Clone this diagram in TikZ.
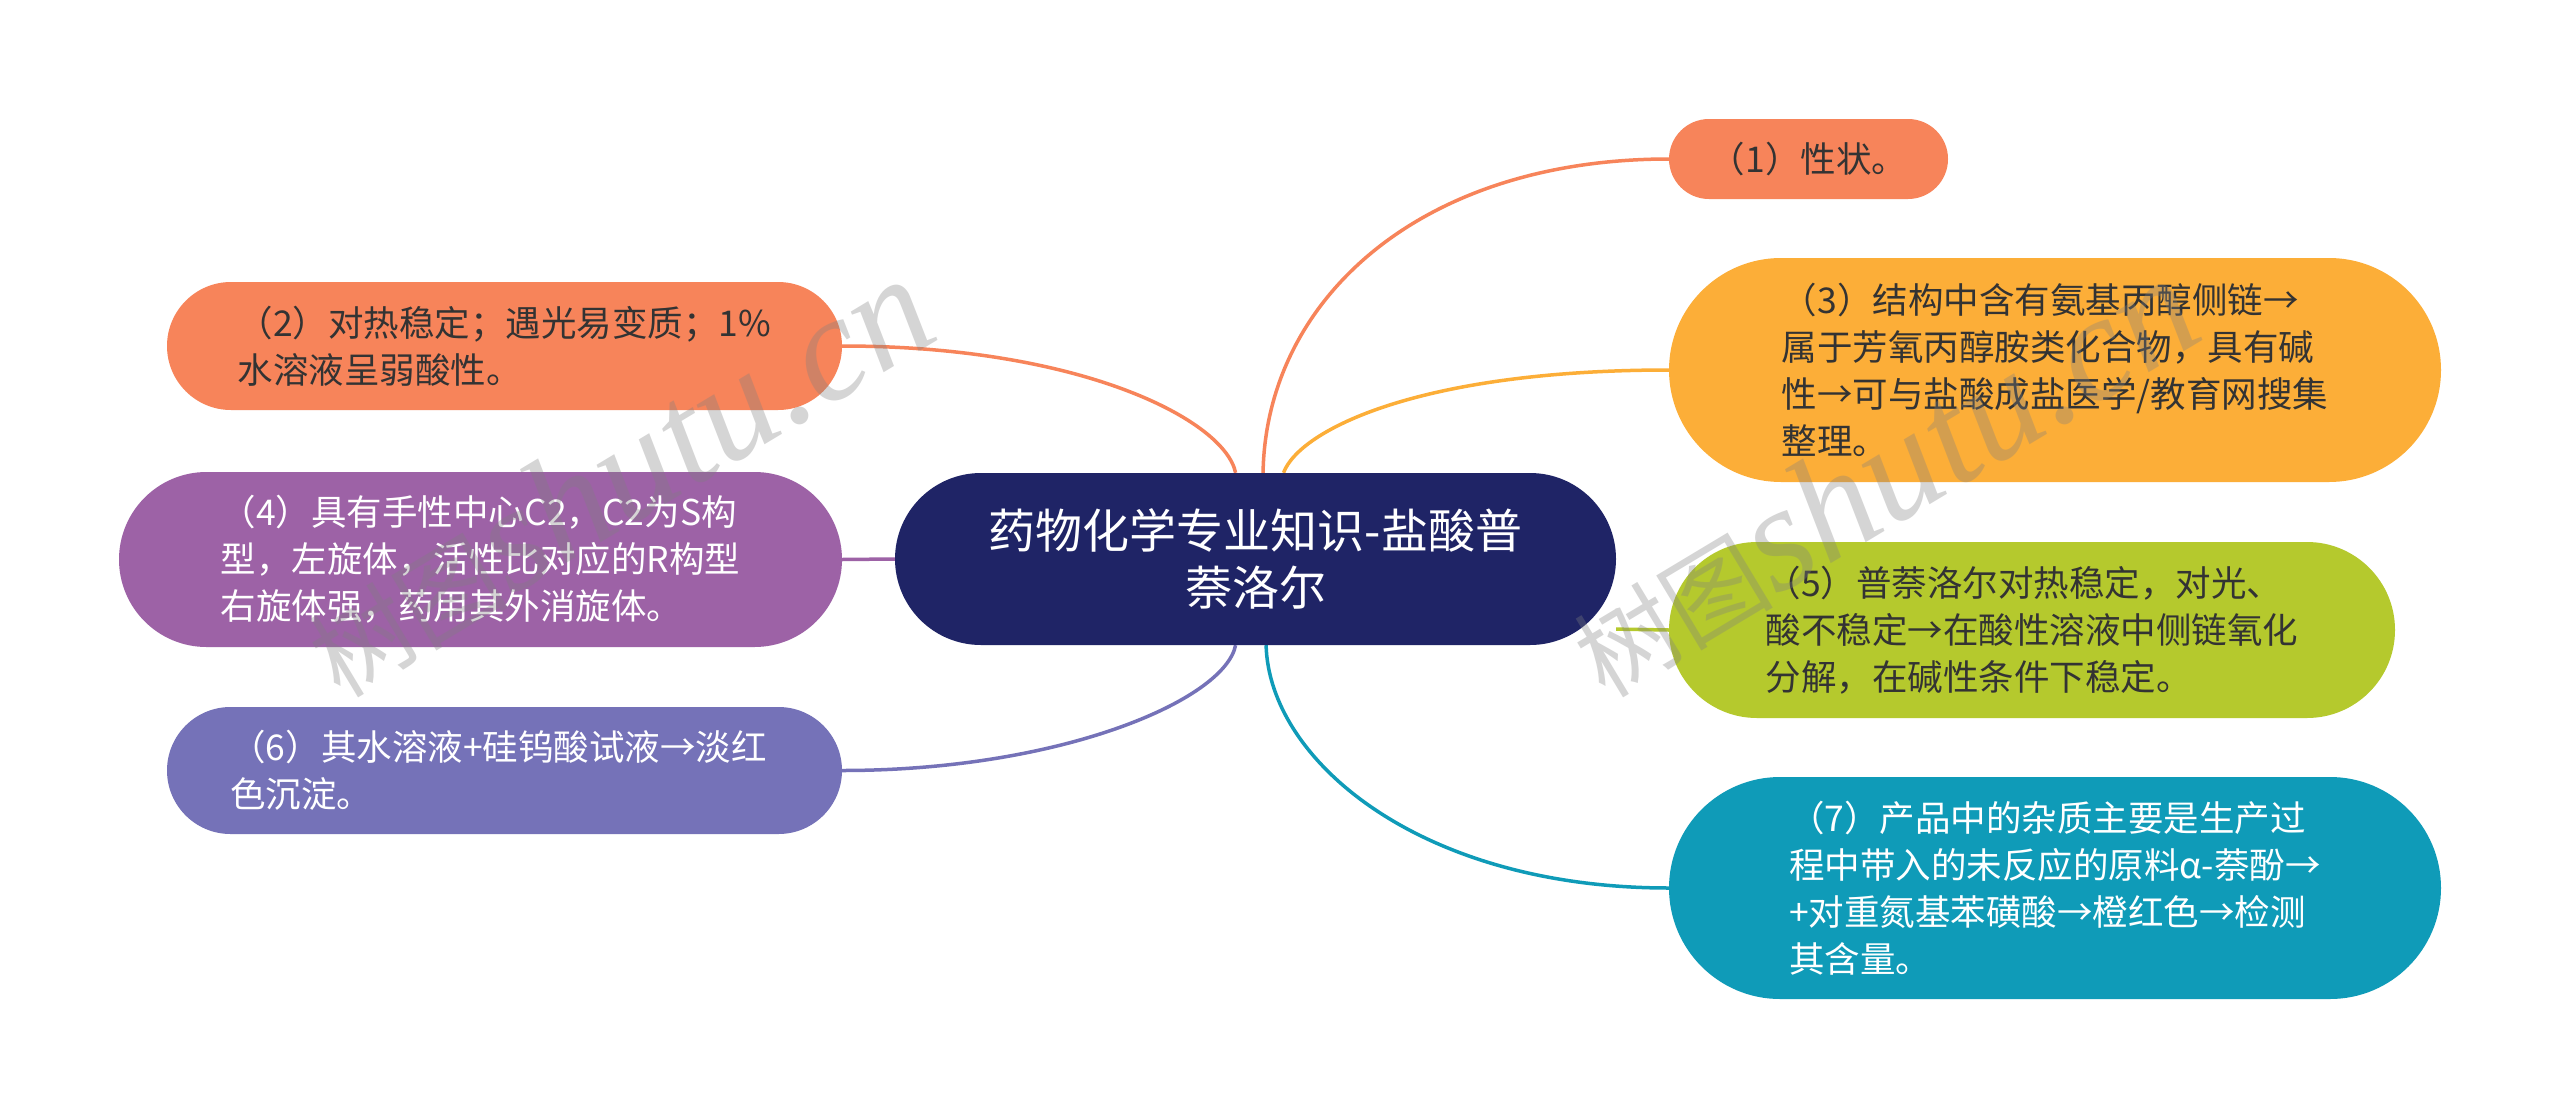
\documentclass[tikz,border=0pt]{standalone}
\usepackage{fontspec}
\setmainfont{Noto Sans CJK SC}
\newfontfamily\wmlat{Liberation Serif}
\usetikzlibrary{backgrounds}
\definecolor{navy}{HTML}{1F2466}
\definecolor{coral}{HTML}{F7845A}
\definecolor{amber}{HTML}{FCAE38}
\definecolor{lime}{HTML}{B5C92D}
\definecolor{teal}{HTML}{0F9BB8}
\definecolor{plum}{HTML}{9D62A6}
\definecolor{peri}{HTML}{7572B8}
\definecolor{darktext}{HTML}{333333}
\definecolor{wmgray}{HTML}{808080}
\begin{document}
\begin{tikzpicture}[x=1pt,y=-1pt,
  topic/.style={rectangle, align=left, inner sep=0pt,
    font=\fontsize{35.5pt}{47pt}\selectfont},
  link/.style={line width=3.5pt},
  wm/.style={rotate=31, anchor=base west, text=wmgray, text opacity=0.33, inner sep=0pt}]
\useasboundingbox (0,0) rectangle (2560,1119);

% central node
\node[topic, fill=navy, text=white, align=center, minimum width=721pt, minimum height=172pt,
  rounded corners=86pt, font=\fontsize{47pt}{57pt}\selectfont] (c) at (1255.5,559)
  {药物化学专业知识-盐酸普\\萘洛尔};

% right side
\node[topic, fill=coral, text=darktext, minimum width=279pt, minimum height=80pt,
  rounded corners=40pt] (n1) at (1808.5,159) {（1）性状。};
\node[topic, fill=amber, text=darktext, minimum width=772pt, minimum height=224pt,
  rounded corners=112pt] (n3) at (2055,370)
  {（3）结构中含有氨基丙醇侧链→\\属于芳氧丙醇胺类化合物，具有碱\\性→可与盐酸成盐医学/教育网搜集\\整理。};
\node[topic, fill=lime, text=darktext, minimum width=726pt, minimum height=176pt,
  rounded corners=88pt] (n5) at (2032,630)
  {（5）普萘洛尔对热稳定，对光、\\酸不稳定→在酸性溶液中侧链氧化\\分解，在碱性条件下稳定。};
\node[topic, fill=teal, text=white, minimum width=772pt, minimum height=222pt,
  rounded corners=111pt] (n7) at (2055,888)
  {（7）产品中的杂质主要是生产过\\程中带入的未反应的原料α-萘酚→\\+对重氮基苯磺酸→橙红色→检测\\其含量。};

% left side
\node[topic, fill=coral, text=darktext, minimum width=675pt, minimum height=128pt,
  rounded corners=64pt] (n2) at (504.5,346)
  {（2）对热稳定；遇光易变质；1\%\\水溶液呈弱酸性。\hspace*{12pt}};
\node[topic, fill=plum, text=white, minimum width=723pt, minimum height=175pt,
  rounded corners=87.5pt] (n4) at (480.5,559.5)
  {（4）具有手性中心C2，C2为S构\\型，左旋体，活性比对应的R构型\hspace*{24pt}\\右旋体强，药用其外消旋体。};
\node[topic, fill=peri, text=white, minimum width=675pt, minimum height=127pt,
  rounded corners=63.5pt] (n6) at (504.5,770.5)
  {（6）其水溶液+硅钨酸试液→淡红\hspace*{12pt}\\色沉淀。};

\begin{pgfonlayer}{background}
  \fill[white] (0,0) rectangle (2560,1119);
  \draw[link, coral] (c.85) .. controls +(3,-173) and +(-249,0) .. (n1.west);
  \draw[link, amber] (c.72) .. controls +(16,-43) and +(-249,0) .. (n3.west);
  \draw[link, coral] (c.103) .. controls +(-11,-53) and +(238,0) .. (n2.east);
  \draw[link, plum] (c.west) -- (n4.east);
  \draw[link, peri] (c.-103) .. controls +(-11,55) and +(218,0) .. (n6.east);
  \draw[link, teal] (c.-83) .. controls +(3,115) and +(-249,0) .. (n7.west);
  \draw[link, lime] (c.-11) -- (n5.west);
\end{pgfonlayer}

% watermarks
\node[wm] (wm1) at (340,700) {{\fontsize{100pt}{100pt}\selectfont 树图}{\wmlat\itshape\fontsize{150pt}{150pt}\selectfont shutu.cn}};
\node[wm] (wm2) at (1605,700) {{\fontsize{100pt}{100pt}\selectfont 树图}{\wmlat\itshape\fontsize{150pt}{150pt}\selectfont shutu.cn}};
\end{tikzpicture}
\end{document}
